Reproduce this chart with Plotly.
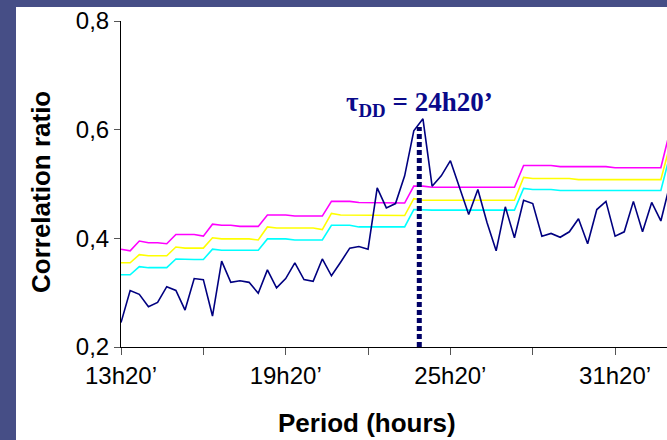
import plotly.graph_objects as go

# ---- data ----
start_hours = 13 + 20 / 60          # 13h20'
step_hours = 20 / 60                # one point every 20 min
n_points = 61

correlation = [0.245, 0.304, 0.297, 0.274, 0.282, 0.311, 0.304, 0.268, 0.326, 0.324,
               0.257, 0.358, 0.319, 0.322, 0.319, 0.299, 0.342, 0.309, 0.326, 0.355,
               0.324, 0.321, 0.362, 0.331, 0.356, 0.382, 0.385, 0.380, 0.493, 0.456,
               0.464, 0.515, 0.598, 0.620, 0.496, 0.515, 0.543, 0.494, 0.444, 0.490,
               0.429, 0.377, 0.458, 0.401, 0.470, 0.464, 0.404, 0.409, 0.402, 0.412,
               0.436, 0.390, 0.453, 0.468, 0.404, 0.412, 0.468, 0.412, 0.466, 0.432,
               0.500]

thr_magenta = [0.380, 0.377, 0.395, 0.392, 0.392, 0.390, 0.407, 0.407, 0.407, 0.404,
               0.426, 0.424, 0.424, 0.422, 0.422, 0.422, 0.443, 0.443, 0.443, 0.441,
               0.441, 0.441, 0.441, 0.468, 0.468, 0.468, 0.466, 0.466, 0.466, 0.465,
               0.466, 0.465, 0.496, 0.496, 0.494, 0.494, 0.494, 0.494, 0.494, 0.494,
               0.494, 0.494, 0.494, 0.494, 0.534, 0.534, 0.534, 0.534, 0.532, 0.532,
               0.532, 0.532, 0.532, 0.532, 0.530, 0.530, 0.530, 0.530, 0.530, 0.530,
               0.598]

thr_yellow = [0.355, 0.355, 0.370, 0.368, 0.368, 0.368, 0.384, 0.382, 0.382, 0.382,
              0.401, 0.399, 0.399, 0.399, 0.399, 0.397, 0.421, 0.419, 0.419, 0.419,
              0.419, 0.419, 0.416, 0.446, 0.443, 0.443, 0.443, 0.443, 0.443, 0.443,
              0.442, 0.442, 0.473, 0.470, 0.470, 0.470, 0.470, 0.470, 0.470, 0.470,
              0.470, 0.470, 0.470, 0.470, 0.512, 0.510, 0.510, 0.510, 0.510, 0.510,
              0.508, 0.508, 0.508, 0.508, 0.508, 0.508, 0.508, 0.508, 0.508, 0.508,
              0.572]

thr_cyan = [0.333, 0.333, 0.348, 0.346, 0.346, 0.346, 0.362, 0.361, 0.361, 0.361,
            0.380, 0.378, 0.378, 0.378, 0.378, 0.378, 0.399, 0.399, 0.399, 0.397,
            0.397, 0.397, 0.397, 0.424, 0.424, 0.424, 0.421, 0.421, 0.421, 0.421,
            0.421, 0.421, 0.453, 0.452, 0.452, 0.452, 0.452, 0.452, 0.452, 0.452,
            0.452, 0.452, 0.452, 0.452, 0.492, 0.490, 0.490, 0.490, 0.488, 0.488,
            0.488, 0.488, 0.488, 0.488, 0.488, 0.488, 0.488, 0.488, 0.488, 0.488,
            0.554]

periods = [start_hours + i * step_hours for i in range(n_points)]

x_tick_vals = [13 + 1/3, 16 + 1/3, 19 + 1/3, 22 + 1/3, 25 + 1/3, 28 + 1/3, 31 + 1/3]
x_tick_text = ["13h20’", "", "19h20’", "", "25h20’", "", "31h20’"]
y_tick_vals = [0.2, 0.4, 0.6, 0.8]
y_tick_text = ["0,2", "0,4", "0,6", "0,8"]

tau_dd = 24.2            # position of the marked period
tau_top = 0.605
tau_label = "<b>τ<sub>DD</sub> = 24h20’</b>"

# ---- figure ----
fig = go.Figure()
for vals, col in [(thr_cyan, "#00ffff"), (thr_yellow, "#ffff00"), (thr_magenta, "#ff00ff")]:
    fig.add_trace(go.Scatter(x=periods, y=vals, mode="lines",
                             line=dict(color=col, width=1.6), hoverinfo="skip"))
fig.add_trace(go.Scatter(x=periods, y=correlation, mode="lines",
                         line=dict(color="#000080", width=1.6)))

# background: dark blue slide with white panel
fig.add_shape(type="rect", xref="paper", yref="paper",
              x0=(16 - 121) / 546, x1=1.2, y0=-0.5, y1=(347 - 7) / 326,
              fillcolor="white", line=dict(width=0), layer="below")

# dotted vertical marker
fig.add_shape(type="line", xref="x", yref="y", x0=tau_dd, x1=tau_dd, y0=0.2, y1=tau_top,
              line=dict(color="#000066", width=5, dash="5px,3px"), layer="above")

fig.add_annotation(x=tau_dd, y=0.647, xref="x", yref="y", text=tau_label,
                   showarrow=False, xanchor="center", yanchor="middle",
                   font=dict(family="Liberation Serif", size=27, color="#0a0a8a"))

fig.add_annotation(x=(41 - 121) / 546, y=(347 - 192) / 326, xref="paper", yref="paper",
                   text="<b>Correlation ratio</b>", textangle=-90, showarrow=False,
                   xanchor="center", yanchor="middle",
                   font=dict(family="Liberation Sans", size=26, color="black"))
fig.add_annotation(x=(367 - 121) / 546, y=(347 - 423) / 326, xref="paper", yref="paper",
                   text="<b>Period (hours)</b>", showarrow=False,
                   xanchor="center", yanchor="middle",
                   font=dict(family="Liberation Sans", size=26, color="black"))

fig.update_layout(
    width=667, height=440,
    margin=dict(l=121, r=0, t=21, b=93, autoexpand=False),
    paper_bgcolor="#464e86",
    plot_bgcolor="white",
    showlegend=False,
    xaxis=dict(range=[start_hours, start_hours + (667 - 121) / 9.15 * step_hours],
               tickvals=x_tick_vals, ticktext=x_tick_text, automargin=False,
               showline=True, linecolor="black", linewidth=1,
               ticks="outside", ticklen=7, tickcolor="#555555", tickwidth=1,
               showgrid=False, zeroline=False,
               tickfont=dict(family="Liberation Sans", size=24, color="black")),
    yaxis=dict(range=[0.2, 0.8], tickvals=y_tick_vals, ticktext=y_tick_text,
               automargin=False,
               showline=True, linecolor="black", linewidth=1,
               ticks="outside", ticklen=6, tickcolor="#555555", tickwidth=1,
               showgrid=False, zeroline=False,
               tickfont=dict(family="Liberation Sans", size=24, color="black")),
)

fig.write_html("out.html", config={"displayModeBar": False},
               post_script="document.body.style.margin='0';document.body.style.overflow='hidden';")
